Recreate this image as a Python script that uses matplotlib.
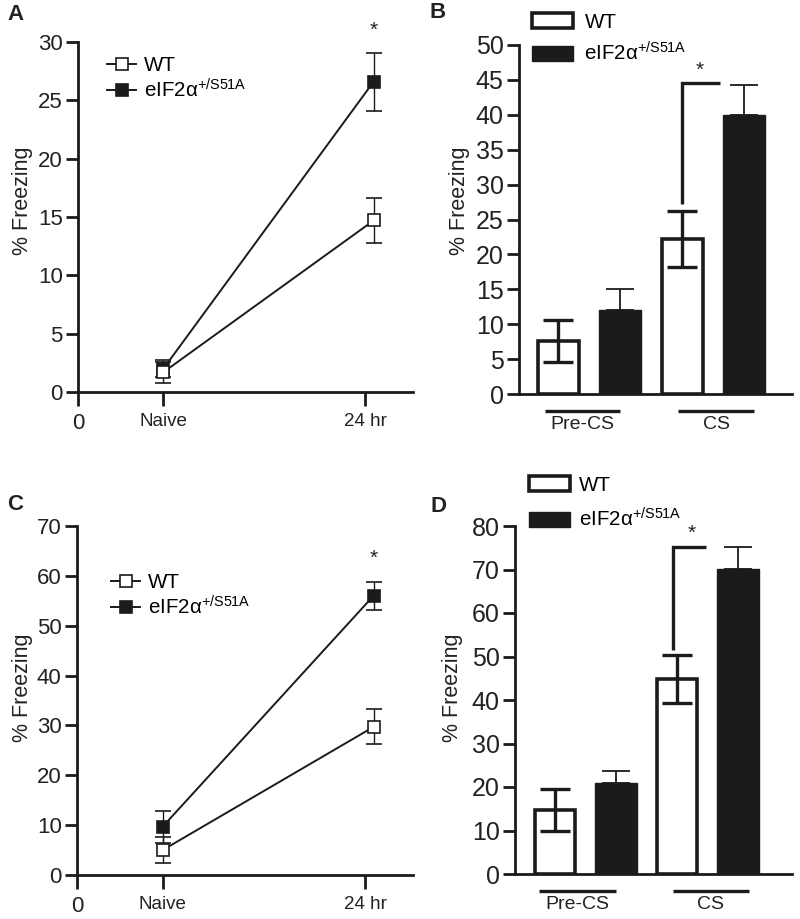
import matplotlib
matplotlib.use('Agg')
import matplotlib.pyplot as plt
from matplotlib.lines import Line2D
from matplotlib.patches import Patch
import numpy as np

plt.rcParams['font.family'] = ['Liberation Sans', 'DejaVu Sans']
plt.rcParams['mathtext.fontset'] = 'custom'
plt.rcParams['mathtext.rm'] = 'Liberation Sans'
plt.rcParams['mathtext.it'] = 'Liberation Sans:italic'

# ---------------- data ----------------
series_labels = ['WT', r'eIF2α$^{\mathregular{+/S51A}}$']
time_labels = ['0', 'Naive', '24 hr']
phase_labels = ['Pre-CS', 'CS']
ylabel = '% Freezing'

a_wt = [1.7, 14.7]
a_wt_err = [0.9, 1.9]
a_mut = [2.0, 26.6]
a_mut_err = [0.7, 2.5]

c_wt = [5.0, 29.7]
c_wt_err = [2.6, 3.5]
c_mut = [9.7, 56.0]
c_mut_err = [3.2, 2.8]

b_wt = [7.6, 22.2]
b_wt_err = [3.0, 4.0]
b_mut = [12.1, 39.9]
b_mut_err = [2.9, 4.3]

d_wt = [14.7, 44.8]
d_wt_err = [4.8, 5.5]
d_mut = [20.9, 70.1]
d_mut_err = [2.7, 5.1]

# ---------------- figure ----------------
W, H = 800, 919
fig = plt.figure(figsize=(W / 100, H / 100), dpi=100)
BLACK = '#1c1a1a'
LEG_FS = 14.8


def px_axes(left, top, right, bottom):
    return fig.add_axes([left / W, 1 - bottom / H, (right - left) / W, (bottom - top) / H])


def style_axes(ax, ylab_x_px, ylab_y_frac, tick_fs):
    for s in ['top', 'right']:
        ax.spines[s].set_visible(False)
    for s in ['left', 'bottom']:
        ax.spines[s].set_linewidth(2.0)
        ax.spines[s].set_color(BLACK)
    ax.tick_params(axis='y', direction='out', length=9, width=2.0, pad=2,
                   labelsize=tick_fs, color=BLACK, labelcolor='#222222')
    bb = ax.get_position()
    ax.set_ylabel(ylabel, fontsize=15.5, color='#222222')
    ax.yaxis.set_label_coords(ylab_x_px / (bb.width * W), ylab_y_frac)


def line_panel(ax, wt, wt_err, mut, mut_err, ymax, ystep, star_y, leg_xy, tick_fs):
    xs = [1.02, 3.53]
    ax.errorbar(xs, mut, yerr=mut_err, color=BLACK, lw=1.4, elinewidth=1.0,
                capsize=6, capthick=1.0, marker='s', ms=9, mfc=BLACK, mec=BLACK,
                mew=1.2, zorder=3)
    ax.errorbar(xs, wt, yerr=wt_err, color=BLACK, lw=1.4, elinewidth=1.0,
                capsize=6, capthick=1.0, marker='s', ms=9, mfc='white', mec=BLACK,
                mew=1.2, zorder=4)
    ax.set_xlim(0, 4.0)
    ax.set_ylim(0, ymax)
    ax.set_yticks(np.arange(0, ymax + 1, ystep))
    ax.set_xticks([0, 1.02, 3.43])
    ax.set_xticklabels(time_labels)
    ax.tick_params(axis='x', direction='out', length=10, width=2.0, pad=5,
                   labelsize=13.5, color=BLACK, labelcolor='#222222')
    ax.get_xticklabels()[0].set_fontsize(tick_fs)
    ax.text(xs[1], star_y, '*', ha='center', va='center', fontsize=15, color='#222222')
    handles = [Line2D([], [], color=BLACK, lw=1.4, marker='s', ms=9, mfc='white', mec=BLACK, mew=1.2),
               Line2D([], [], color=BLACK, lw=1.4, marker='s', ms=9, mfc=BLACK, mec=BLACK, mew=1.2)]
    ax.legend(handles, series_labels, loc='upper left',
              bbox_to_anchor=(leg_xy[0] / W, 1 - leg_xy[1] / H), bbox_transform=fig.transFigure,
              frameon=False, fontsize=LEG_FS, handlelength=1.42, handletextpad=0.36,
              labelspacing=0.15, borderpad=0, borderaxespad=0)


def bar_panel(ax, wt, wt_err, mut, mut_err, ymax, ystep, bracket, star, leg_xy,
              leg_spacing, leg_pad, line_start, line_end, tick_fs):
    xg = np.arange(len(phase_labels)) * 2.0
    xw, xm = xg, xg + 1
    ax.bar(xw, wt, width=0.66, color='white', edgecolor=BLACK, lw=2.6, zorder=2)
    ax.bar(xm, mut, width=0.68, color=BLACK, edgecolor=BLACK, lw=1.0, zorder=2)
    ax.errorbar(xw, wt, yerr=wt_err, fmt='none', ecolor=BLACK, elinewidth=2.4,
                capsize=11, capthick=2.4, zorder=3)
    ax.errorbar(xm, mut, yerr=[np.zeros(len(mut)), mut_err], fmt='none', ecolor=BLACK,
                elinewidth=1.3, capsize=10, capthick=1.3, zorder=1)
    ax.set_ylim(0, ymax)
    ax.set_yticks(np.arange(0, ymax + 1, ystep))
    ax.set_xticks([])
    # significance bracket
    (x0, y0), (x1, y1) = bracket
    ax.plot([x0, x0, x1], [y0, y1, y1], color=BLACK, lw=2.4, clip_on=False,
            solid_capstyle='butt', solid_joinstyle='miter')
    ax.text(star[0], star[1], '*', ha='center', va='center', fontsize=15, color='#222222')
    # group underlines
    tr = ax.get_xaxis_transform()
    for i, lab in enumerate(phase_labels):
        s, e = xg[i] + line_start[i], xg[i] + line_end[i]
        ax.plot([s, e], [-0.049, -0.049], color=BLACK, lw=2.4, transform=tr,
                clip_on=False, solid_capstyle='butt')
        ax.text((s + e) / 2, -0.088, lab, transform=tr, ha='center', va='center',
                fontsize=14, color='#222222')
    handles = [Patch(facecolor='white', edgecolor=BLACK, lw=2.6),
               Patch(facecolor=BLACK, edgecolor=BLACK, lw=1.0)]
    ax.legend(handles, series_labels, loc='upper left',
              bbox_to_anchor=(leg_xy[0] / W, 1 - leg_xy[1] / H), bbox_transform=fig.transFigure,
              frameon=False, fontsize=LEG_FS, handlelength=2.0, handleheight=0.72,
              handletextpad=leg_pad, labelspacing=leg_spacing, borderpad=0, borderaxespad=0)


# Panel A
axA = px_axes(78, 42, 413, 392)
line_panel(axA, a_wt, a_wt_err, a_mut, a_mut_err, 30, 5, 31.0, (107, 56), 16)
style_axes(axA, -45, 0.546, 16)

# Panel C
axC = px_axes(77, 526, 413, 875)
line_panel(axC, c_wt, c_wt_err, c_mut, c_mut_err, 70, 10, 63.5, (111, 573), 16)
style_axes(axC, -44, 0.536, 16)

# Panel B
axB = px_axes(519, 45, 792, 394)
axB.set_xlim(-0.63, 3.77)
bar_panel(axB, b_wt, b_wt_err, b_mut, b_mut_err, 50, 5,
          ((2.0, 27.2), (2.61, 44.5)), (2.29, 46.3), (532, 13), 0.45, 0.55,
          [-0.21, -0.06], [1.0, 1.16], 18)
style_axes(axB, -49, 0.553, 18)

# Panel D
axD = px_axes(515, 526, 792, 874)
axD.set_xlim(-0.656, 3.885)
bar_panel(axD, d_wt, d_wt_err, d_mut, d_mut_err, 80, 10,
          ((1.93, 51.5), (2.48, 75.2)), (2.24, 78.4), (529, 476), 0.62, 0.45,
          [-0.26, -0.07], [1.0, 1.18], 18)
style_axes(axD, -52, 0.536, 18)

# panel letters
for lab, (x, y) in zip('ABCD', [(15, 15), (438, 13), (15, 504), (438, 506)]):
    fig.text(x / W, 1 - y / H, lab, ha='center', va='center', fontsize=16,
             fontweight='bold', color='#222222')

fig.savefig('out.png', dpi=100)
